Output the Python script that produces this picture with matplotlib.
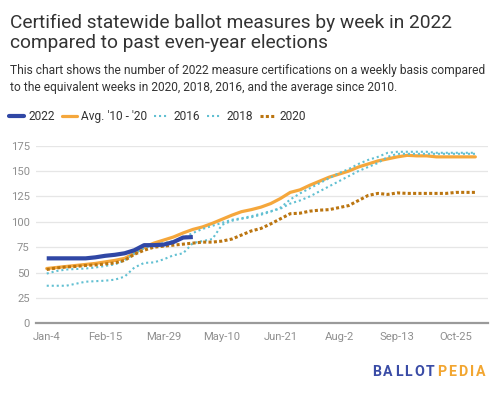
import matplotlib
matplotlib.use("Agg")
import matplotlib.pyplot as plt
from matplotlib.lines import Line2D

plt.rcParams['font.family'] = ['Roboto', 'DejaVu Sans']

# ---------------- data ----------------
tick_weeks = [0, 6, 12, 18, 24, 30, 36, 42]
tick_labels = ["Jan-4", "Feb-15", "Mar-29", "May-10", "Jun-21", "Aug-2", "Sep-13", "Oct-25"]
y_ticks = [0, 25, 50, 75, 100, 125, 150, 175]

series_2022 = [64, 64, 64, 64, 64, 65, 66.5, 67.5, 69, 72, 77, 77, 77.5, 80, 84.5, 85]
series_avg = [54, 55, 56, 57, 58, 59, 60.5, 62, 64, 69, 75, 79, 82, 85, 89, 92.5,
              95, 98.5, 102.5, 106.5, 110, 112, 114.5, 118, 123, 129, 131.5, 136,
              140, 144, 147, 150, 154, 157, 160, 162, 164, 165.5, 165, 165, 164,
              164, 164, 164, 164]
series_2016 = [49, 51.5, 53, 53.5, 54, 55, 56.5, 58, 62, 69, 74, 77, 79, 81, 84, 89,
               93, 96, 99, 102, 103.5, 105.5, 108, 110.5, 113, 118, 121, 125, 130,
               135, 140, 145, 150, 154, 158, 164, 167, 167, 167, 167, 167, 167, 167,
               167, 167]
series_2018 = [37, 37, 37, 39, 41, 41.5, 42, 43, 46, 55, 59.5, 60, 63, 67, 69, 79,
               81, 83, 97, 101, 103, 104.5, 107, 110, 114, 122, 128, 133, 138, 143,
               148, 152, 157, 161, 164, 168, 169, 169, 169, 169, 168, 168, 168, 168,
               168]
series_2020 = [53, 54.5, 55.5, 56, 57, 57.5, 58.5, 59.5, 62, 68, 72, 75, 76, 77, 78,
               79, 80, 80, 81, 83, 87, 91, 93.5, 98, 103, 108, 108.5, 110.5, 111.5,
               112, 114, 116, 121, 126, 128, 127, 128.5, 128, 128, 128, 128, 128,
               129, 129, 129]

title_lines = ["Certified statewide ballot measures by week in 2022",
               "compared to past even-year elections"]
subtitle_lines = ["This chart shows the number of 2022 measure certifications on a weekly basis compared",
                  "to the equivalent weeks in 2020, 2018, 2016, and the average since 2010."]

# ---------------- style ----------------
C_BLUE = "#3047a5"
C_ORANGE = "#f5a73c"
C_TEAL = "#62c0d2"
C_BROWN = "#bb7510"
TXT = "#333333"
TICK = "#8f8f8f"

W, H = 500, 395
fig = plt.figure(figsize=(W / 100, H / 100), dpi=100)
fig.patch.set_facecolor("white")

def fy(px):
    return 1 - px / H

def fx(px):
    return px / W

ax = fig.add_axes([fx(36), fy(323.3), fx(488) - fx(36), fy(145.7) - fy(323.3)])
ax.set_facecolor("white")
ax.set_xlim(-1.1, 45.3)
ax.set_ylim(0, 175)

for v in y_ticks[1:]:
    ax.axhline(v, color="#e6e6e6", lw=0.9, zorder=0)
ax.axhline(0, color="#9a9a9a", lw=1.6, zorder=1, clip_on=False)

dot_teal = (0, (1, 1.4))
dot_brown = (0, (1, 0.75))

def xs(s):
    return list(range(len(s)))

ax.plot(xs(series_avg), series_avg, color=C_ORANGE, lw=2.3, solid_capstyle="round",
        solid_joinstyle="round", zorder=3, clip_on=False)
ax.plot(xs(series_2018), series_2018, color=C_TEAL, lw=1.5, ls=dot_teal,
        dash_capstyle="butt", zorder=4, clip_on=False)
ax.plot(xs(series_2016), series_2016, color=C_TEAL, lw=1.5, ls=dot_teal,
        dash_capstyle="butt", zorder=4, clip_on=False)
ax.plot(xs(series_2020), series_2020, color=C_BROWN, lw=2.2, ls=dot_brown,
        dash_capstyle="butt", zorder=5, clip_on=False)
ax.plot(xs(series_2022), series_2022, color=C_BLUE, lw=3.0, solid_capstyle="butt",
        solid_joinstyle="round", zorder=6, clip_on=False)

ax.set_xticks(tick_weeks)
ax.set_xticklabels(tick_labels)
ax.set_yticks(y_ticks)
ax.set_yticklabels([str(v) for v in y_ticks])
ax.tick_params(axis="both", length=0, labelsize=8.1, colors=TICK)
ax.tick_params(axis="x", pad=6.5)
ax.tick_params(axis="y", pad=4.5)
for sp in ax.spines.values():
    sp.set_visible(False)

# ---------------- texts ----------------
fig.text(fx(10), fy(28.5), title_lines[0], fontsize=13.8, color=TXT, va="baseline", ha="left")
fig.text(fx(10), fy(48.5), title_lines[1], fontsize=13.8, color=TXT, va="baseline", ha="left")
fig.text(fx(10), fy(74), subtitle_lines[0], fontsize=8.65, color=TXT, va="baseline", ha="left")
fig.text(fx(10), fy(90.7), subtitle_lines[1], fontsize=8.65, color=TXT, va="baseline", ha="left")

# legend
handles = [
    Line2D([], [], color=C_BLUE, lw=3.0, solid_capstyle="round"),
    Line2D([], [], color=C_ORANGE, lw=2.3, solid_capstyle="round"),
    Line2D([], [], color=C_TEAL, lw=1.5, ls=dot_teal),
    Line2D([], [], color=C_TEAL, lw=1.5, ls=dot_teal),
    Line2D([], [], color=C_BROWN, lw=2.2, ls=dot_brown),
]
labels = ["2022", "Avg. '10 - '20", "2016", "2018", "2020"]
leg = fig.legend(handles, labels, loc="center left", bbox_to_anchor=(fx(9), fy(116.5)),
                 ncol=5, frameon=False, fontsize=8.6, handlelength=1.25,
                 handletextpad=0.4, columnspacing=0.55, borderpad=0, borderaxespad=0)
for t in leg.get_texts():
    t.set_color(TXT)

# logo with letter spacing
renderer = fig.canvas.get_renderer()
logo_parts = [("BALLOT", "#3a4ca6"), ("PEDIA", "#f2a631")]
x_cur = 372.0
track = 2.1
for word, col in logo_parts:
    for ch in word:
        t = fig.text(fx(x_cur), fy(371.5), ch, fontsize=10.2, fontweight="bold",
                     color=col, va="center", ha="left")
        bb = t.get_window_extent(renderer=renderer)
        x_cur += bb.width + track

fig.savefig("out.png", dpi=100, facecolor="white")
